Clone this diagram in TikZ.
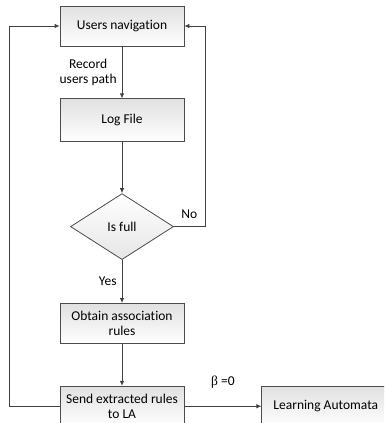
\documentclass[tikz,border=0pt]{standalone}
\usepackage{fontspec}
\setmainfont{Carlito}[Ligatures={NoCommon}]
\newfontfamily\greekfont{Liberation Serif}
\usetikzlibrary{positioning,shapes.geometric,arrows.meta}
\tikzset{
  box/.style={draw=black!70, line width=0.8pt, top color=black!12, bottom color=white, minimum width=124pt, minimum height=40pt, align=center, inner sep=2pt},
  decision/.style={diamond, draw=black!70, line width=0.8pt, top color=white, bottom color=black!10, minimum width=103pt, minimum height=66pt, aspect=1.56, inner sep=0pt, align=center},
  line/.style={draw=black!75, line width=0.8pt},
}
\begin{document}
\begin{tikzpicture}[x=1pt, y=1pt, >={Latex[length=5pt,width=4.5pt]}, font=\fontsize{13.5}{15.5}\selectfont]

% --- page frame (reference crops the bottom boxes) ---
\path[use as bounding box] (0,0) rectangle (384,-423);
\clip (0,0) rectangle (384,-423);

% --- main vertical path ---
\node (nav) [box] at (122,-26) {Users navigation};
\node (log) [box, minimum height=43pt, below=52pt of nav] {Log File};
\node (full)[decision, below=51pt of log] {Is full};
\node (rules)[box, below=43pt of full] {Obtain association\\rules};
\node (send)[box, below=42pt of rules] {Send extracted rules\\to LA};
\node (la)  [box, minimum width=128pt, right=77pt of send] {Learning Automata};

% --- main downward arrows ---
\draw[line, ->] (nav) -- (log) node[midway, left, align=center, inner sep=5pt] {Record\\users path};
\draw[line, ->] (log) -- (full);
\draw[line, ->] (full) -- (rules) node[midway, left, inner sep=5pt] {Yes};
\draw[line, ->] (rules) -- (send);

% --- output to learning automata ---
\draw[line, ->] (send) -- (la) node[midway, above=14pt] {{\greekfont β} =0};

% --- feedback loops ---
\draw[line, ->] (full.east) -- ++(31,0) node[midway, above=4pt] {No} |- (nav.east);
\draw[line, ->] (send.west) -- ++(-50,0) |- (nav.west);

\end{tikzpicture}
\end{document}
